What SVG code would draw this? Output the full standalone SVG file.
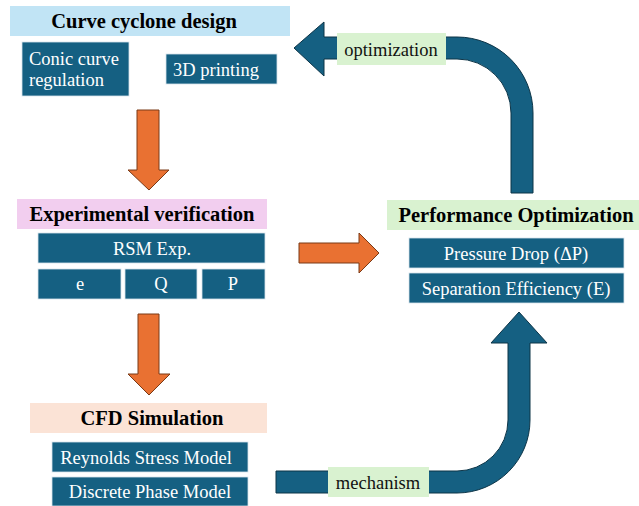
<svg xmlns="http://www.w3.org/2000/svg" width="639" height="506" viewBox="0 0 639 506">
<style>
.hdr{font-family:"Liberation Serif","Times New Roman",serif;font-weight:bold;font-size:20.5px;fill:#000;text-anchor:middle}
.bx{fill:#156082;stroke:#d8e4ec;stroke-width:0.8}
.bt{font-family:"Liberation Serif","Times New Roman",serif;font-size:18.5px;fill:#fff;text-anchor:middle}
.lbl{font-family:"Liberation Serif","Times New Roman",serif;font-size:18.5px;fill:#111;text-anchor:middle}
.oa{fill:#e97132;stroke:#7a3a16;stroke-width:1}
.ba{fill:#156082;stroke:#0c3447;stroke-width:1}
.tag{fill:#d9f2d0}
</style>
<rect width="639" height="506" fill="#fff"/>
<g id="connectors">
  <path class="oa" d="M137,110 H159 V170 H169 L149,190 L128,170 H137 Z"/>
  <path class="oa" d="M138,314 H159 V374 H170 L149,395 L128,374 H138 Z"/>
  <path class="oa" d="M299,243 H359 V233 L379,253 L359,273 V263 H299 Z"/>
  <path class="ba" d="M511,193 V113 A54,54 0 0 0 457,59 H324 V76 L294,48 L324,22 V37 H457 A76,76 0 0 1 533,113 V193 Z"/>
  <path class="ba" d="M276,471 H457 A51,51 0 0 0 508,420 V343 H491 L519,312 L547,343 H530 V420 A73,73 0 0 1 457,493 H276 Z"/>
  <rect class="tag" x="337" y="33" width="109" height="32"/>
  <text class="lbl" x="391" y="56">optimization</text>
  <rect class="tag" x="328" y="467" width="101" height="30"/>
  <text class="lbl" x="378" y="489">mechanism</text>
</g>
<g id="design">
  <rect x="10" y="6" width="280" height="30" fill="#c1e4f5"/>
  <text class="hdr" x="144" y="28">Curve cyclone design</text>
</g>
<g id="conic">
  <rect class="bx" x="22" y="42" width="107" height="54"/>
  <text class="bt" x="29" y="65" style="text-anchor:start">Conic curve</text>
  <text class="bt" x="29" y="86" style="text-anchor:start">regulation</text>
</g>
<g id="printing">
  <rect class="bx" x="166" y="54" width="111" height="30"/>
  <text class="bt" x="216" y="76">3D printing</text>
</g>
<g id="experimental">
  <rect x="17" y="199" width="250" height="30" fill="#f2ceef"/>
  <text class="hdr" x="142" y="221">Experimental verification</text>
</g>
<g id="rsm">
  <rect class="bx" x="38" y="233" width="227" height="30"/>
  <text class="bt" x="152" y="255">RSM Exp.</text>
</g>
<g id="e">
  <rect class="bx" x="38" y="269" width="83" height="30"/>
  <text class="bt" x="80" y="290">e</text>
</g>
<g id="q">
  <rect class="bx" x="125" y="269" width="72" height="30"/>
  <text class="bt" x="161" y="290">Q</text>
</g>
<g id="p">
  <rect class="bx" x="202" y="269" width="63" height="30"/>
  <text class="bt" x="233" y="290">P</text>
</g>
<g id="performance">
  <rect x="387" y="200" width="252" height="30" fill="#d9f2d0"/>
  <text class="hdr" x="516" y="222">Performance Optimization</text>
</g>
<g id="pressure">
  <rect class="bx" x="409" y="238" width="215" height="30"/>
  <text class="bt" x="516" y="260">Pressure Drop (ΔP)</text>
</g>
<g id="separation">
  <rect class="bx" x="409" y="273" width="215" height="30"/>
  <text class="bt" x="516" y="295">Separation Efficiency (E)</text>
</g>
<g id="cfd">
  <rect x="30" y="403" width="237" height="30" fill="#fbe3d6"/>
  <text class="hdr" x="152" y="425">CFD Simulation</text>
</g>
<g id="reynolds">
  <rect class="bx" x="52" y="442" width="196" height="30"/>
  <text class="bt" x="146" y="464">Reynolds Stress Model</text>
</g>
<g id="discrete">
  <rect class="bx" x="52" y="477" width="196" height="29"/>
  <text class="bt" x="150" y="498">Discrete Phase Model</text>
</g>
</svg>
